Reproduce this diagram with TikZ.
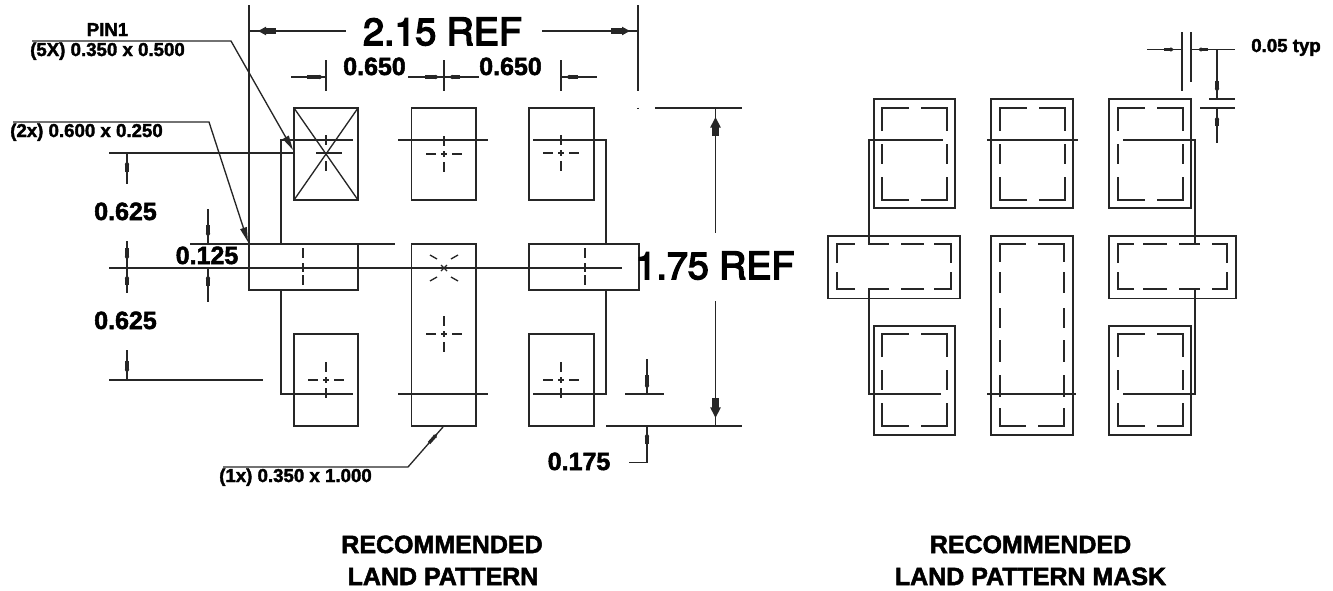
\documentclass[tikz,border=0pt]{standalone}
\usepackage{fontspec}
\setmainfont{Liberation Sans}
\newfontfamily\bigfont{TeX Gyre Heros}[RawFeature={embolden=4}]
\newfontfamily\heavyfont{Liberation Sans}[BoldFont={Liberation Sans Bold},BoldFeatures={RawFeature={embolden=2}}]
\usetikzlibrary{arrows.meta}
\tikzset{
  dimtext/.style={font=\heavyfont\bfseries\fontsize{18.75pt}{20pt}\selectfont,anchor=base,inner sep=0pt},
  smalltext/.style={font=\heavyfont\bfseries\fontsize{14pt}{16pt}\selectfont,anchor=base,inner sep=0pt},
  bigtext/.style={font=\bigfont\fontsize{28.2pt}{30pt}\selectfont,anchor=base,inner sep=0pt},
  blob/.style={line width=2.5pt,-{Triangle[length=2.6pt,width=3.4pt]}},
  bigblob/.style={line width=4.2pt,-{Triangle[length=6pt,width=6pt]}},
  tallblob/.style={line width=5.5pt,-{Triangle[length=8pt,width=7.5pt]}},
  leader/.style={-{Triangle[length=11pt,width=5pt]}},
  centermark/.pic={
    \draw (-3,0) -- (3,0) (0,-3) -- (0,3);
    \draw (-18,0) -- (-8,0) (8,0) -- (18,0) (0,-18) -- (0,-8) (0,8) -- (0,18);
  },
  maskpad/.pic={
    \draw (0,23) -- (0,0) -- (27,0);
    \draw (39,0) -- (65,0) -- (65,23);
    \draw (65,36) -- (65,56);
    \draw (65,69) -- (65,92) -- (39,92);
    \draw (27,92) -- (0,92) -- (0,69);
    \draw (0,36) -- (0,56);
  }
}
\begin{document}
\begin{tikzpicture}[x=0.75pt,y=-0.75pt,line width=1pt,draw=black!85]
  \useasboundingbox (0,0) rectangle (1333,590);

  \foreach \xa/\ya/\xb/\yb in {294/108/358/200,411.5/108/476/200,529/108/594/200,249/244/358/290,411.5/244/476/426,529/244/639/290,294/334/358/426,529/334/594/426}
    \draw (\xa,\ya) rectangle (\xb,\yb);

  \draw (281,244) -- (281,140) -- (353,140);
  \draw (398,140) -- (488,140);
  \draw (533,140) -- (606,140) -- (606,244);
  \draw (281,290) -- (281,394) -- (353,394);
  \draw (398,394) -- (488,394);
  \draw (533,394) -- (606,394) -- (606,290);

  \draw (294,108) -- (358,200) (358,108) -- (294,200);
  \draw (326,135) -- (326,145) (326,161) -- (326,171) (316,153) -- (342,153);
  \pic at (444,154) {centermark};
  \pic at (561,153) {centermark};
  \pic at (326,380) {centermark};
  \pic at (561,380) {centermark};
  \pic at (444,334) {centermark};
  \draw (430,255) -- (437,259) (458,255) -- (451,259) (430,281) -- (437,277) (458,281) -- (451,277);
  \draw (441,265) -- (447,271) (447,265) -- (441,271);
  \draw (303,248) -- (303,258) (303,263) -- (303,272) (303,275) -- (303,285);
  \draw (585,248) -- (585,258) (585,263) -- (585,272) (585,275) -- (585,285);

  \draw (249,5) -- (249,244);
  \draw (638,5) -- (638,91);
  \draw (638,107.5) -- (638,108.5);
  \draw (249,31) -- (346,31);
  \draw (542,31) -- (638,31);
  \draw[bigblob] (276,31) -- (258,31);
  \draw[bigblob] (611,31) -- (630,31);
  \node[bigtext] (refwidth) at (442.5,45) {2.15 REF};

  \draw (326,60) -- (326,91);
  \draw (444,60) -- (444,91);
  \draw (561,60) -- (561,91);
  \draw (291,77) -- (326,77);
  \draw (408,77) -- (479,77);
  \draw (561,77) -- (597,77);
  \draw[blob] (307,77) -- (323,77);
  \draw[blob] (425,77) -- (439,77);
  \draw[blob] (460,77) -- (449,77);
  \draw[blob] (578,77) -- (566,77);
  \node[dimtext] (pitcha) at (374.5,75) {0.650};
  \node[dimtext] (pitchb) at (510.5,75) {0.650};

  \node[smalltext] (pinname) at (107.5,36) {PIN1};
  \node[smalltext] (pinsize) at (107.5,56) {(5X) 0.350 x 0.500};
  \draw[leader] (32,41) -- (231,41) -- (293,150);
  \node[smalltext] (sidesize) at (86.5,137) {(2x) 0.600 x 0.250};
  \draw[leader] (13,122) -- (209,122) -- (248,242);
  \node[smalltext] (centersize) at (295.5,482) {(1x) 0.350 x 1.000};
  \draw (223,467) -- (408,467) -- (443,427);
  \draw[blob] (429,443) -- (437,434);

  \draw (109,153) -- (294,153);
  \draw (190,244) -- (395,244);
  \draw (109,268) -- (622,268);
  \draw (109,380) -- (263,380);
  \draw (127,153) -- (127,184);
  \draw (127,241) -- (127,293);
  \draw (127,350) -- (127,380);
  \draw[blob] (127,172) -- (127,161);
  \draw[blob] (127,248) -- (127,260);
  \draw[blob] (127,285) -- (127,275);
  \draw[blob] (127,361) -- (127,373);
  \node[dimtext] (rowa) at (125.5,220) {0.625};
  \node[dimtext] (rowb) at (125.5,329) {0.625};

  \draw (208,209) -- (208,244);
  \draw (208,268) -- (208,302);
  \draw[blob] (208,225) -- (208,237);
  \draw[blob] (208,286) -- (208,275);
  \node[dimtext] (gapdim) at (207,264) {0.125};

  \draw (655,108) -- (742,108);
  \draw (606,426) -- (742,426);
  \draw (715.5,108) -- (715.5,233);
  \draw (715.5,301) -- (715.5,426);
  \draw[tallblob] (715.5,136) -- (715.5,117);
  \draw[tallblob] (715.5,398) -- (715.5,418);
  \node[bigtext] (refheight) at (715,279) {1.75 REF};

  \draw (625,394) -- (664,394);
  \draw (647,359) -- (647,394);
  \draw (647,426) -- (647,462.5) -- (629,462.5);
  \draw[blob] (647,375) -- (647,389);
  \draw[blob] (647,444) -- (647,433);
  \node[dimtext] (overhang) at (579,470) {0.175};

  \node[dimtext] (titlea) at (442,553) {RECOMMENDED};
  \node[dimtext] (titleb) at (443,585) {LAND PATTERN};

  \foreach \xa/\ya/\xb/\yb in {874/99/955/208,991/99/1073/208,1109/99/1191/208,828/236/960/298.5,991/236/1073/435,1109/236/1236/298.5,874/326/955/435,1109/326/1191/435}
    \draw (\xa,\ya) rectangle (\xb,\yb);

  \pic at (882,108) {maskpad};
  \pic at (1000,108) {maskpad};
  \pic at (1118,108) {maskpad};
  \pic at (882,334) {maskpad};
  \pic at (1118,334) {maskpad};

  \draw (837,263) -- (837,244) -- (855,244);
  \draw (868,244) -- (889,244) (901,244) -- (924,244);
  \draw (934,244) -- (951,244) -- (951,263);
  \draw (951,272) -- (951,289) -- (934,289);
  \draw (924,289) -- (901,289) (889,289) -- (868,289);
  \draw (855,289) -- (837,289) -- (837,272);

  \draw (1118,263) -- (1118,244) -- (1134,244);
  \draw (1143,244) -- (1167,244) (1179,244) -- (1200,244);
  \draw (1212,244) -- (1227,244) -- (1227,263);
  \draw (1227,272) -- (1227,289) -- (1212,289);
  \draw (1200,289) -- (1179,289) (1167,289) -- (1143,289);
  \draw (1134,289) -- (1118,289) -- (1118,272);

  \draw (1000,262) -- (1000,244) -- (1026,244);
  \draw (1038,244) -- (1064,244) -- (1064,262);
  \draw (1000,408) -- (1000,426) -- (1026,426);
  \draw (1038,426) -- (1064,426) -- (1064,408);
  \foreach \ya/\yb in {272/293,308/328,340/362,375/397}
    \draw (1000,\ya) -- (1000,\yb) (1064,\ya) -- (1064,\yb);

  \draw (869,244) -- (869,140) -- (943,140);
  \draw (987,140) -- (1078,140);
  \draw (1123,140) -- (1195,140) -- (1195,244);
  \draw (869,289) -- (869,394) -- (941,394);
  \draw (987,394) -- (1076,394);
  \draw (1123,394) -- (1195,394) -- (1195,289);

  \draw (1182,32) -- (1182,91);
  \draw (1191,32) -- (1191,82);
  \draw (1147,49.5) -- (1182,49.5);
  \draw (1191,49.5) -- (1235,49.5);
  \draw (1217,49.5) -- (1217,99);
  \draw (1209,99) -- (1235,99);
  \draw (1200,108) -- (1235,108);
  \draw (1217,108) -- (1217,143);
  \draw[blob] (1164,49.5) -- (1174,49.5);
  \draw[blob] (1208,49.5) -- (1198,49.5);
  \draw[blob] (1217,81) -- (1217,92);
  \draw[blob] (1217,126) -- (1217,116);
  \node[smalltext] (masktyp) at (1286,52) {0.05 typ};

  \node[dimtext] (titlec) at (1030.5,553) {RECOMMENDED};
  \node[dimtext] (titled) at (1030.5,585) {LAND PATTERN MASK};
\end{tikzpicture}
\end{document}
